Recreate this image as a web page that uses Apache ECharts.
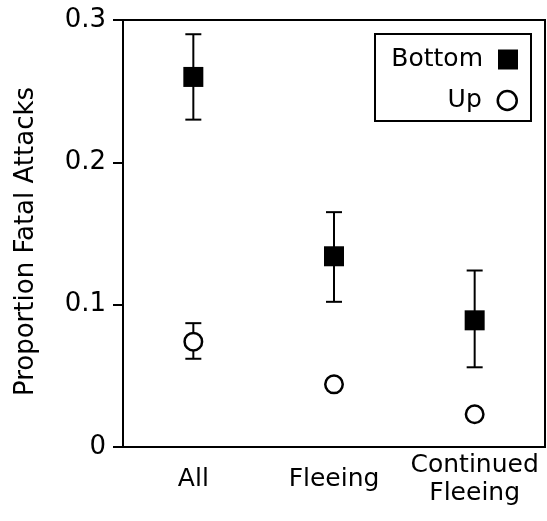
<!DOCTYPE html>
<html><head><meta charset="utf-8">
<script src="https://cdn.jsdelivr.net/npm/echarts@6/dist/echarts.min.js"></script>
<style>html,body{margin:0;padding:0;background:#fff}#c{width:547px;height:521px}</style>
</head><body><div id="c"></div>
<script>
const categories = ['All', 'Fleeing', 'Continued\nFleeing'];
const bottomValues = [0.260, 0.134, 0.089];
const bottomErrLow = [0.230, 0.102, 0.056];
const bottomErrHigh = [0.290, 0.165, 0.124];
const upValues = [0.074, 0.044, 0.023];
const upErrLow = [0.062, null, null];
const upErrHigh = [0.087, null, null];
const yTicks = [0, 0.1, 0.2, 0.3];

const FONT = '"DejaVu Sans", Verdana, sans-serif';

function errData(low, high) {
  const out = [];
  for (let i = 0; i < categories.length; i++) {
    if (low[i] != null) out.push([i, low[i], high[i]]);
  }
  return out;
}
function errRender(params, api) {
  const x = api.value(0);
  const lo = api.coord([x, api.value(1)]);
  const hi = api.coord([x, api.value(2)]);
  const w = 8;
  const st = { stroke: '#000', lineWidth: 2 };
  return {
    type: 'group',
    children: [
      { type: 'line', shape: { x1: lo[0], y1: lo[1], x2: hi[0], y2: hi[1] }, style: st },
      { type: 'line', shape: { x1: hi[0] - w, y1: hi[1], x2: hi[0] + w, y2: hi[1] }, style: st },
      { type: 'line', shape: { x1: lo[0] - w, y1: lo[1], x2: lo[0] + w, y2: lo[1] }, style: st }
    ]
  };
}

const chart = echarts.init(document.getElementById('c'), null, { renderer: 'canvas' });
chart.setOption({
  animation: false,
  backgroundColor: '#fff',
  textStyle: { fontFamily: FONT, color: '#000' },
  grid: { left: 123, right: 2, top: 20, bottom: 74, show: true, borderColor: '#000', borderWidth: 2 },
  xAxis: {
    type: 'category',
    data: categories,
    boundaryGap: true,
    axisLine: { show: true, lineStyle: { color: '#000', width: 2 } },
    axisTick: { show: false },
    axisLabel: { color: '#000', fontSize: 25, fontFamily: FONT, margin: 32, verticalAlign: 'middle', lineHeight: 28, interval: 0 },
    splitLine: { show: false }
  },
  yAxis: {
    type: 'value',
    min: 0, max: 0.3, interval: 0.1,
    name: 'Proportion Fatal Attacks',
    nameLocation: 'middle',
    nameGap: 84,
    nameTextStyle: { color: '#000', fontSize: 26, fontFamily: FONT, padding: [0, 16, 0, 0] },
    axisLine: { show: true, lineStyle: { color: '#000', width: 2 } },
    axisTick: { show: true, inside: false, length: 10, lineStyle: { color: '#000', width: 2 } },
    axisLabel: {
      color: '#000', fontSize: 26, fontFamily: FONT, margin: 17,
      formatter: v => { const t = yTicks.find(k => Math.abs(k - v) < 1e-9); return t === 0 ? '0' : (t != null ? t.toFixed(1) : ''); }
    },
    splitLine: { show: false }
  },
  legend: [
    {
      data: [{ name: 'Bottom', icon: 'rect' }],
      right: 29, top: 47, orient: 'vertical', align: 'right', padding: 0,
      itemWidth: 20, itemHeight: 20,
      itemStyle: { opacity: 1 },
      textStyle: { fontSize: 25, fontFamily: FONT, color: '#000', lineHeight: 20, padding: [0, 10, 0, 0] },
      selectedMode: false
    },
    {
      data: [{ name: 'Up', icon: 'circle' }],
      right: 29, top: 88, orient: 'vertical', align: 'right', padding: 0,
      itemWidth: 19, itemHeight: 19,
      itemStyle: { opacity: 1, borderWidth: 2.5 },
      textStyle: { fontSize: 25, fontFamily: FONT, color: '#000', lineHeight: 19, padding: [0, 11, 0, 0] },
      selectedMode: false
    }
  ],
  graphic: [
    { type: 'rect', shape: { x: 375, y: 34, width: 156, height: 87 }, style: { fill: 'none', stroke: '#000', lineWidth: 2 }, z: 10 }
  ],
  series: [
    { type: 'custom', name: 'errBottom', renderItem: errRender, data: errData(bottomErrLow, bottomErrHigh), encode: { x: 0, y: [1, 2] }, z: 1 },
    { type: 'custom', name: 'errUp', renderItem: errRender, data: errData(upErrLow, upErrHigh), encode: { x: 0, y: [1, 2] }, z: 1 },
    {
      type: 'scatter', name: 'Bottom', data: bottomValues.map((v, i) => [i, v]),
      symbol: 'rect', symbolSize: 20, itemStyle: { color: '#000', opacity: 1 }, z: 3
    },
    {
      type: 'scatter', name: 'Up', data: upValues.map((v, i) => [i, v]),
      symbol: 'circle', symbolSize: 17.5, itemStyle: { color: '#fff', borderColor: '#000', borderWidth: 2.5, opacity: 1 }, z: 3
    }
  ]
});
</script></body></html>
